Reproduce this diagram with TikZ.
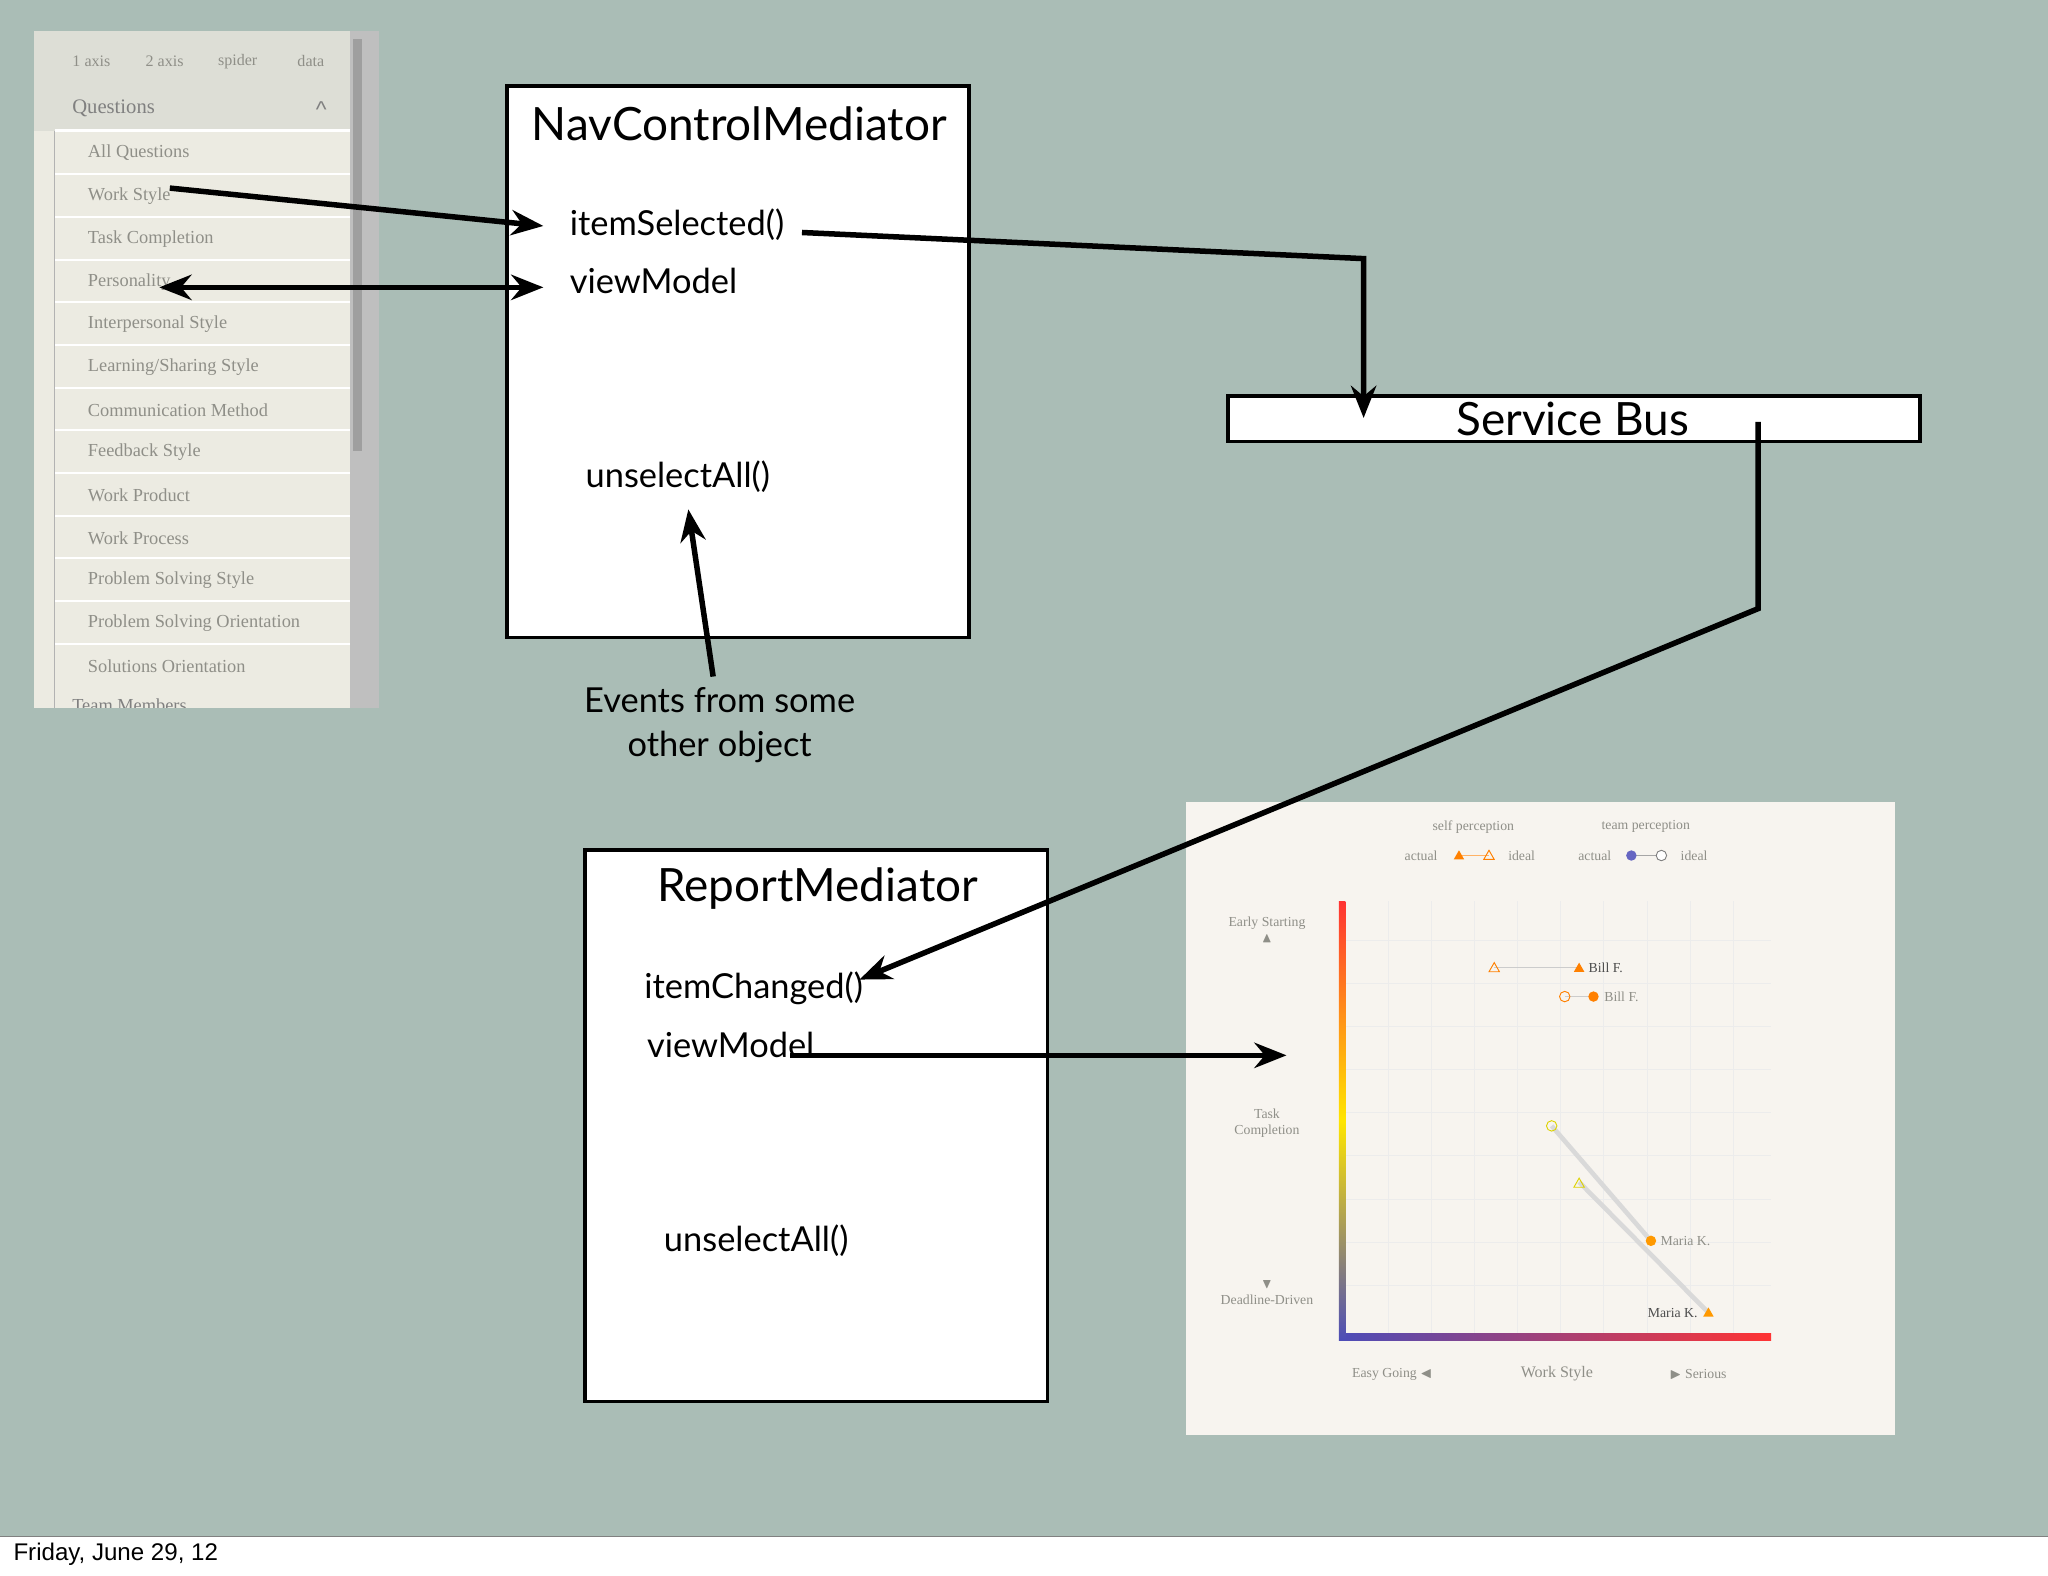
\documentclass[tikz,border=0pt]{standalone}
\usepackage{amssymb}
\usepackage{fontspec}
\setmainfont{Lato}
\newfontfamily\serifs{Liberation Serif}
\newfontfamily\helv{Liberation Sans}
\usetikzlibrary{arrows.meta}
\definecolor{bg}{HTML}{AABDB6}
\definecolor{panel}{HTML}{ECEBE2}
\definecolor{panelh}{HTML}{DDDED6}
\definecolor{chartbg}{HTML}{F7F4EF}
\definecolor{itemtxt}{HTML}{8F8F88}
\tikzset{
 box/.style={draw=black,line width=1.6pt,fill=white},
 lbl/.style={font=\fontsize{15}{18}\selectfont,anchor=west,inner sep=0pt},
 ttl/.style={font=\fontsize{20}{24}\selectfont,inner sep=0pt},
 con/.style={line width=2.4pt,-{Stealth[length=14pt,width=11pt]}},
 item/.style={font=\serifs\fontsize{8}{9}\selectfont,text=itemtxt,anchor=west,inner sep=0pt},
 clbl/.style={font=\serifs\fontsize{6}{7}\selectfont,text=itemtxt,inner sep=0pt},
}
\begin{document}
\begin{tikzpicture}[x=0.02cm,y=-0.02cm]
\useasboundingbox (0,0) rectangle (1568,1206);
\fill[white] (0,0) rectangle (1568,1206);
\fill[bg] (0,0) rectangle (1568,1176);
\draw[gray] (0,1176) -- (1568,1176);
\node[font=\helv\fontsize{10.5}{12}\selectfont,anchor=west,inner sep=0pt] (date) at (10,1190) {Friday, June 29, 12};
% left panel
\fill[panel] (26,24) rectangle (290,542);
\fill[panelh] (26,24) rectangle (268,100);
\fill[gray!50] (268,24) rectangle (290,542);
\fill[gray!75] (270,30) rectangle (277,345);
\foreach \x/\t in {70/1 axis,126/2 axis,182/spider,238/data}
  \node[clbl,font=\serifs\fontsize{7}{8}\selectfont] at (\x,47) {\t};
\node[item,font=\serifs\fontsize{9}{10}\selectfont,text=gray] (q) at (55,83) {Questions};
\node[text=gray,inner sep=0pt] at (246,84) {\helv\^{}};
\foreach \y/\t [count=\i] in {117/All Questions,150/Work Style,183/Task Completion,216/Personality,248/Interpersonal Style,281/{Learning/Sharing Style},314/Communication Method,346/Feedback Style,379/Work Product,412/Work Process,444/Problem Solving Style,477/Problem Solving Orientation,510/Solutions Orientation}{
  \draw[white,line width=1pt] (42,\y-17) -- (268,\y-17);
  \node[item] (it\i) at (67,\y) {\t};}
\draw[gray!60] (42,100) -- (42,542);
\node[item,text=gray] (tm) at (55,540) {Team Members};
\fill[bg] (26,542) rectangle (292,560);
% NavControlMediator
\draw[box] (388,66) rectangle (742,488);
\node[ttl] (nav) at (566,95) {NavControlMediator};
\node[lbl] (isel) at (436,172) {itemSelected()};
\node[lbl] (vm1) at (436,215) {viewModel};
\node[lbl] (ua1) at (448,365) {unselectAll()};
\node[font=\fontsize{15}{19}\selectfont,align=center,inner sep=0pt] (ev) at (551,555) {Events from some\\other object};
% Service bus
\draw[box] (940,303) rectangle (1470,338);
\node[ttl] (sb) at (1204,321) {Service Bus};
% ReportMediator
\draw[box] (448,651) rectangle (802,1073);
\node[ttl] (rm) at (626,680) {ReportMediator};
\node[lbl] (ich) at (493,757) {itemChanged()};
\node[lbl] (vm2) at (495,800) {viewModel};
\node[lbl] (ua2) at (508,950) {unselectAll()};
% chart
\fill[chartbg] (908,614) rectangle (1451,1099);
\foreach \x in {1030,1063,1096,1129,1162,1195,1228,1261,1294,1327} \draw[gray!15] (\x,690) -- (\x,1024);
\foreach \y in {720,753,786,819,852,885,918,951,984} \draw[gray!15] (1027,\y) -- (1356,\y);
\shade[left color=blue!60!black!70,right color=red!80] (1026,1021) rectangle (1356,1026);
\shade[top color=red!80,bottom color=blue!60!black!70, middle color=yellow!80!orange] (1025,690) rectangle (1030,1026);
\node[clbl] at (1128,633) {self perception};
\node[clbl] at (1260,633) {team perception};
\node[clbl] at (1088,655) {actual};
\node[clbl] at (1165,655) {ideal};
\node[clbl] at (1221,655) {actual};
\node[clbl] at (1297,655) {ideal};
\draw[orange!60] (1117,655) -- (1140,655);
\fill[orange] (1117,651) -- (1121,658) -- (1113,658) -- cycle;
\draw[orange] (1140,651) -- (1144,658) -- (1136,658) -- cycle;
\draw[gray!70] (1249,655) -- (1272,655);
\fill[blue!60!black!60] (1249,655) circle (4);
\draw[gray,fill=white] (1272,655) circle (4);
\node[clbl,align=center] at (970,712) {Early Starting\\$\blacktriangle$};
\node[clbl,align=center] at (970,860) {Task\\Completion};
\node[clbl,align=center] at (970,990) {$\blacktriangledown$\\Deadline-Driven};
\node[clbl] at (1066,1052) {Easy Going $\blacktriangleleft$};
\node[clbl,font=\serifs\fontsize{7}{8}\selectfont] at (1192,1052) {Work Style};
\node[clbl] at (1300,1052) {$\blacktriangleright$ Serious};
\draw[gray!40] (1144,741) -- (1208,741);
\draw[orange] (1144,737) -- (1148,744) -- (1140,744) -- cycle;
\fill[orange] (1209,737) -- (1213,744) -- (1205,744) -- cycle;
\node[clbl,text=black!70,anchor=west] at (1216,741) {Bill F.};
\draw[gray!40] (1198,763) -- (1220,763);
\draw[orange] (1198,763) circle (4);
\fill[orange] (1220,763) circle (4);
\node[clbl,anchor=west] at (1228,763) {Bill F.};
\draw[gray!30,line width=2pt] (1188,862) -- (1264,950);
\draw[gray!30,line width=2pt] (1209,905) -- (1308,1005);
\draw[yellow!70!olive] (1188,862) circle (4);
\draw[yellow!70!olive] (1209,902) -- (1213,909) -- (1205,909) -- cycle;
\fill[orange!80!yellow] (1264,950) circle (4);
\node[clbl,anchor=west] at (1271,950) {Maria K.};
\fill[orange!80!yellow] (1308,1001) -- (1312,1008) -- (1304,1008) -- cycle;
\node[clbl,text=black!70,anchor=east] at (1300,1005) {Maria K.};
\coordinate (chartin) at (985,808);
% connectors
\draw[con] (130,144) -- (416,173);
\draw[line width=2.4pt,{Stealth[length=14pt,width=11pt]}-{Stealth[length=14pt,width=11pt]}] (122,220) -- (416,220);
\draw[con] (614,178) -- (1044,198) -- (1044,320);
\draw[con] (1346,323) -- (1346,466) -- (658,750);
\draw[con] (546,518) -- (527,390);
\draw[con] (605,808) -- (chartin);
\end{tikzpicture}
\end{document}
